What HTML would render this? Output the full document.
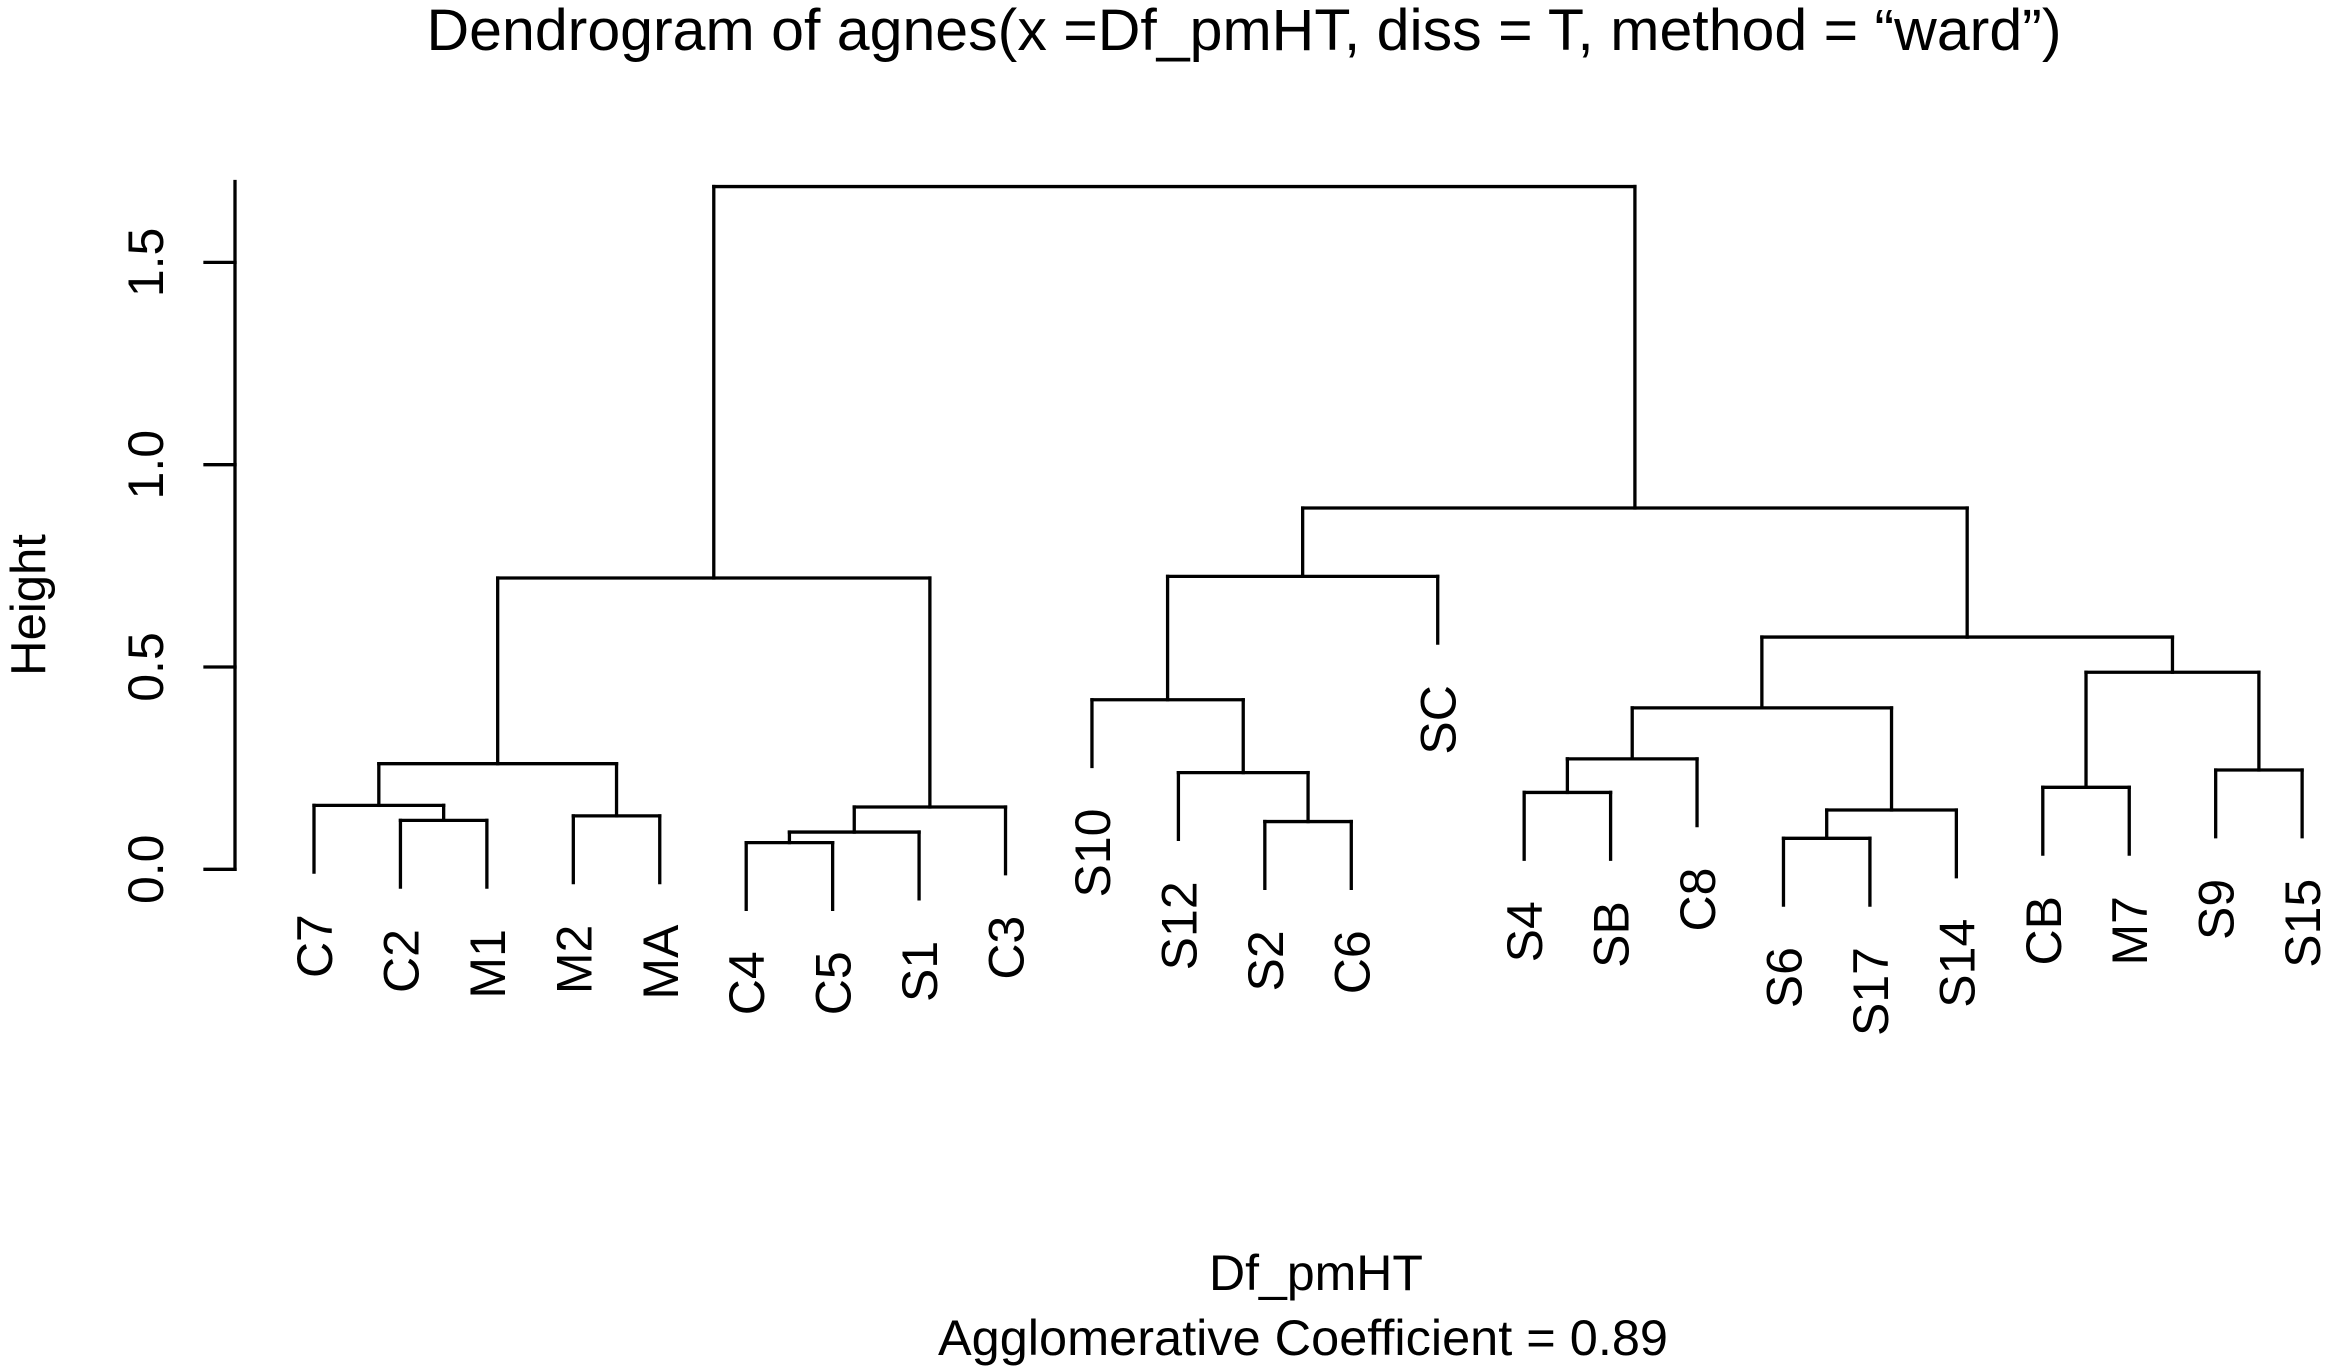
<!DOCTYPE html>
<html>
<head>
<meta charset="utf-8">
<style>
html,body{margin:0;padding:0;background:#fff;}
svg{display:block;}
text{font-family:"Liberation Sans",Arial,sans-serif;fill:#000;}
</style>
</head>
<body>
<svg id="chart" width="2330" height="1368" viewBox="0 0 2330 1368" xmlns="http://www.w3.org/2000/svg">
  <rect width="2330" height="1368" fill="#fff"/>
  <text x="1244" y="50" font-size="58" text-anchor="middle" textLength="1635" lengthAdjust="spacingAndGlyphs">Dendrogram of agnes(x =Df_pmHT, diss = T, method = “ward”)</text>
  <text x="1316" y="1290" font-size="50" text-anchor="middle">Df_pmHT</text>
  <text x="1303" y="1355" font-size="50" text-anchor="middle" textLength="730" lengthAdjust="spacingAndGlyphs">Agglomerative Coefficient = 0.89</text>
  <text transform="translate(45,605) rotate(-90)" font-size="49" text-anchor="middle">Height</text>
  <g id="axis"></g>
  <g id="tree"></g>
  <g id="labels"></g>
</svg>
<script>
const leafLabels = ["C7","C2","M1","M2","MA","C4","C5","S1","C3","S10","S12","S2","C6","SC","S4","SB","C8","S6","S17","S14","CB","M7","S9","S15"];
// R-style merge matrix: negative = leaf (1-based), positive = earlier merge (1-based)
const mergeLeft  = [-2,-1,-4, 2,-6, 5, 6, 4,-12,-11,-10,11,-15,13,-18,15,14,-21,-23,18,17,12, 8];
const mergeRight = [-3, 1,-5, 3,-7,-8,-9, 7,-13,  9, 10,-14,-16,-17,-19,-20,16,-22,-24,19,20,21,22];
const mergeHeights = [0.121,0.158,0.132,0.261,0.066,0.092,0.154,0.72,0.118,0.239,0.419,0.724,0.190,0.273,0.0766,0.1466,0.399,0.2027,0.2454,0.487,0.574,0.893,1.6875];
const yTicks = [0.0,0.5,1.0,1.5];
const yTickLabels = ["0.0","0.5","1.0","1.5"];
const hang = 0.165;

const NS = "http://www.w3.org/2000/svg";
const y0 = 869.3, yPer = 404.6;
const yScale = v => y0 - v*yPer;
const xScale = i => 314 + 86.44*i;

function line(parent, x1,y1,x2,y2){
  const l = document.createElementNS(NS,"line");
  l.setAttribute("x1",x1);l.setAttribute("y1",y1);l.setAttribute("x2",x2);l.setAttribute("y2",y2);
  l.setAttribute("stroke","#000");l.setAttribute("stroke-width","3.3");l.setAttribute("stroke-linecap","square");
  parent.appendChild(l);
  return l;
}

const axis = document.getElementById("axis");
const axLine = line(axis, 235, yScale(yTicks[0]), 235, yScale(1.7));


yTicks.forEach((t,i)=>{
  const tk = line(axis, 205, yScale(t), 235, yScale(t));
  
  
  const tx = document.createElementNS(NS,"text");
  tx.setAttribute("transform",`translate(163,${yScale(t)}) rotate(-90)`);
  tx.setAttribute("font-size","50");
  tx.setAttribute("text-anchor","middle");
  tx.textContent = yTickLabels[i];
  
  
  axis.appendChild(tx);
});

const tree = document.getElementById("tree");
const labels = document.getElementById("labels");
const nodeX = [], nodeH = [];
function pos(ref){
  if(ref<0) return {x:xScale(-ref-1), leaf:-ref-1};
  return {x:nodeX[ref-1], h:nodeH[ref-1]};
}
mergeLeft.forEach((l,k)=>{
  const r = mergeRight[k], h = mergeHeights[k];
  const a = pos(l), b = pos(r);
  const yh = yScale(h);
  [a,b].forEach(p=>{
    const bottom = (p.leaf!==undefined) ? yScale(h-hang) : yScale(p.h);
    const v = line(tree, p.x, yh, p.x, bottom);
    
    
    if(p.leaf!==undefined){
      const tx = document.createElementNS(NS,"text");
      tx.setAttribute("transform",`translate(${p.x},${bottom}) rotate(-90)`);
      tx.setAttribute("x", -42);
      tx.setAttribute("dy","0.36em");
      tx.setAttribute("font-size","50");
      tx.setAttribute("text-anchor","end");
      tx.textContent = leafLabels[p.leaf];
      
      
      labels.appendChild(tx);
    }
  });
  const hz = line(tree, a.x, yh, b.x, yh);
  
  
  nodeX.push((a.x+b.x)/2);
  nodeH.push(h);
});
</script>
</body>
</html>
